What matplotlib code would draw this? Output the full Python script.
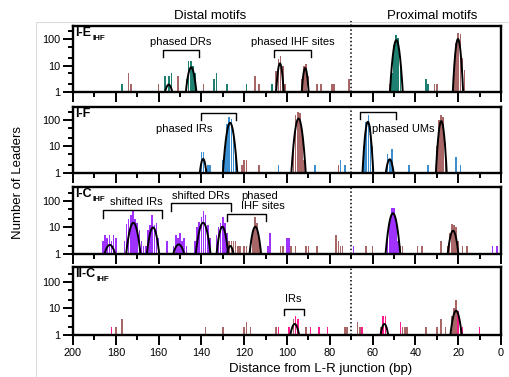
import numpy as np
import matplotlib
matplotlib.use("Agg")
import matplotlib.pyplot as plt
from matplotlib.patches import Rectangle
from matplotlib.lines import Line2D
from matplotlib.transforms import blended_transform_factory
from matplotlib.ticker import FixedLocator, FixedFormatter, MultipleLocator, NullFormatter

plt.rcParams['font.family'] = ['Liberation Sans', 'DejaVu Sans']

# ---------------- data ----------------
# Panel 1: I-E IHF
p1_teal_x = [177, 157, 155, 154, 147, 146, 145, 144, 143, 134, 133, 128, 119, 107,
             51, 50, 49, 48, 47, 46, 35, 34]
p1_teal_h = [2, 4, 4, 5, 3, 15, 15, 10, 5, 3, 5, 2, 2, 2,
             5, 60, 140, 110, 12, 2, 3, 2]
p1_brown_x = [174, 173, 160, 151, 139, 115, 113, 105, 104, 103, 102, 101, 93, 92, 91, 90,
              86, 84, 79, 78, 71, 52, 31, 30, 22, 21, 20, 19, 18, 17]
p1_brown_h = [5, 2, 2, 4, 2, 4, 2, 6, 18, 22, 10, 2, 3, 10, 11, 4,
              2, 2, 2, 2, 3, 2, 2, 2, 5, 70, 170, 150, 20, 7]
p1_fit_mu = [155.3, 144.8, 103.3, 91.5, 48.9, 20.1]
p1_fit_amp = [1.9, 8.5, 12, 8, 91, 100]
p1_fit_sd = [1.5, 1.2, 0.8, 0.8, 1.0, 0.8]

# Panel 2: I-F
p2_blue_x = [140, 139, 137, 136, 130, 129, 128, 127, 126, 125, 124, 104, 87, 75, 73,
             64, 63, 62, 61, 60, 53, 52, 51, 43, 34, 21, 19]
p2_blue_h = [6, 6, 2, 2, 3, 10, 70, 130, 110, 40, 5, 2, 2, 3, 2,
             10, 80, 150, 60, 10, 5, 3, 8, 2, 2, 4, 2]
p2_brown_x = [121, 120, 119, 113, 97, 96, 95, 94, 93, 92, 76, 30, 29, 28, 27, 26]
p2_brown_h = [2, 3, 3, 2, 8, 150, 190, 180, 40, 3, 2, 10, 100, 150, 130, 15]
p2_fit_mu = [139.2, 126.6, 94.6, 62.2, 52.0, 27.9]
p2_fit_amp = [3.3, 76, 110, 83, 3.2, 88]
p2_fit_sd = [1.0, 1.15, 1.1, 0.85, 1.2, 0.85]

# Panel 3: I-C IHF
p3_purple_x = [186, 185, 184, 183, 182, 181, 180, 176, 175, 174, 173, 172, 171, 170, 169, 168,
               167, 166, 165, 164, 163, 162, 161, 160, 156, 153, 152, 151, 150, 149, 148, 147,
               143, 142, 141, 140, 139, 138, 137, 136, 133, 132, 131, 130, 129, 128,
               109, 108, 100, 99, 69, 53, 52, 51, 50, 49, 48, 4, 2]
p3_purple_h = [3, 5, 4, 5, 3, 5, 4, 3, 14, 20, 30, 40, 20, 15, 8, 3,
               2, 2, 8, 12, 30, 12, 15, 4, 3, 2, 5, 4, 6, 3, 4, 2,
               3, 10, 16, 25, 40, 30, 12, 4, 5, 10, 15, 25, 15, 6,
               2, 6, 4, 4, 2, 5, 20, 55, 55, 20, 3, 2, 2]
p3_brown_x = [127, 126, 125, 124, 123, 122, 120, 119, 117, 116, 115, 114, 113, 103, 102, 98,
              96, 91, 90, 86, 77, 76, 75, 74, 63, 60, 47, 46, 39, 37, 28, 25, 24, 23, 22,
              21, 20, 18, 16]
p3_brown_h = [3, 3, 3, 3, 2, 2, 2, 2, 3, 8, 25, 15, 4, 2, 2, 2,
              2, 2, 2, 2, 5, 3, 2, 2, 2, 2, 2, 2, 2, 2, 3, 2, 6, 13, 12,
              10, 3, 2, 2]
p3_fit_mu = [182.8, 171.8, 162.6, 150.6, 139.2, 130.2, 126.5, 114.8, 50.5, 22.4]
p3_fit_amp = [2.2, 15, 10, 2.3, 15, 10.6, 2.0, 10.6, 34, 7.5]
p3_fit_sd = [2.0, 1.45, 1.35, 2.0, 1.5, 1.25, 1.3, 1.25, 1.3, 1.25]

# Panel 4: II-C IHF
p4_pink_x = [182, 104, 99, 96, 95, 89, 85, 81, 65, 55, 54, 47, 20, 18, 10]
p4_pink_h = [2, 2, 2, 5, 4, 2, 2, 2, 2, 5, 5, 3, 8, 2, 2]
p4_brown_x = [180, 177, 138, 130, 120, 119, 117, 105, 97, 91, 73, 72, 67, 66, 56,
              46, 45, 44, 35, 30, 28, 26, 23, 22, 21, 19]
p4_brown_h = [2, 4, 2, 2, 2, 3, 2, 2, 4, 2, 2, 2, 3, 2, 2,
              2, 2, 2, 2, 2, 4, 2, 5, 10, 20, 3]
p4_fit_mu = [96.4, 54.5, 21.0]
p4_fit_amp = [2.6, 2.6, 8.2]
p4_fit_sd = [1.5, 1.3, 1.3]

x_ticks = [200, 180, 160, 140, 120, 100, 80, 60, 40, 20, 0]
y_ticks = [1, 10, 100]
y_tick_labels = ["1", "10", "100"]

TEAL = "#1d8070"
BROWN = "#a86666"
BLUE = "#3b8ed0"
PURPLE = "#a032ff"
PINK = "#ff1a8c"

# ---------------- figure ----------------
W, H = 509, 377
fig = plt.figure(figsize=(W / 100, H / 100), dpi=100)

# faint outer frame
fig.add_artist(Rectangle((36 / W, -0.05), 1.0, 1 - 21.7 / H + 0.05, transform=fig.transFigure,
                         fill=False, ec="#dcdcdc", lw=0.8))

left, right = 73 / W, 501 / W
panel_px = [(26, 92), (107, 172.7), (187, 254), (267, 335)]
ytops = [310, 300, 330, 360]

panels = [
    dict(series=[(p1_teal_x, p1_teal_h, TEAL), (p1_brown_x, p1_brown_h, BROWN)],
         fit=(p1_fit_mu, p1_fit_amp, p1_fit_sd), label=("I-E", "IHF")),
    dict(series=[(p2_blue_x, p2_blue_h, BLUE), (p2_brown_x, p2_brown_h, BROWN)],
         fit=(p2_fit_mu, p2_fit_amp, p2_fit_sd), label=("I-F", None)),
    dict(series=[(p3_purple_x, p3_purple_h, PURPLE), (p3_brown_x, p3_brown_h, BROWN)],
         fit=(p3_fit_mu, p3_fit_amp, p3_fit_sd), label=("I-C", "IHF")),
    dict(series=[(p4_pink_x, p4_pink_h, PINK), (p4_brown_x, p4_brown_h, BROWN)],
         fit=(p4_fit_mu, p4_fit_amp, p4_fit_sd), label=("II-C", "IHF")),
]

axes = []
for i, (pdef, (yt, yb)) in enumerate(zip(panels, panel_px)):
    ax = fig.add_axes([left, 1 - yb / H, right - left, (yb - yt) / H])
    axes.append(ax)
    ax.set_yscale("log")
    for xs, hs, col in pdef["series"]:
        hs = np.asarray(hs, dtype=float)
        ax.bar(xs, hs - 0.5, bottom=0.5, width=0.75, color=col, lw=0)
    mus, amps, sds = pdef["fit"]
    for mu, a, sd in zip(mus, amps, sds):
        xx = np.linspace(mu - 4 * sd, mu + 4 * sd, 200)
        yy = a * np.exp(-(xx - mu) ** 2 / (2 * sd ** 2))
        ax.plot(xx, yy, color="black", lw=1.4, solid_capstyle="round")
    ax.axvline(70, color="black", ls=(0, (1, 1.5)), lw=1.1)
    ax.set_xlim(200, 0)
    ax.set_ylim(1, ytops[i])
    ax.xaxis.set_major_locator(FixedLocator(x_ticks))
    ax.xaxis.set_minor_locator(MultipleLocator(10))
    ax.yaxis.set_major_locator(FixedLocator(y_ticks))
    ax.yaxis.set_major_formatter(FixedFormatter(y_tick_labels))
    ax.yaxis.set_minor_locator(FixedLocator([2, 5, 20, 50, 200]))
    ax.yaxis.set_minor_formatter(NullFormatter())
    ax.tick_params(axis="both", which="major", direction="out", length=7, width=1.4,
                   labelsize=7.8, pad=2)
    ax.tick_params(axis="both", which="minor", direction="out", length=3.8, width=1.4)
    ax.tick_params(axis="x", top=False)
    ax.tick_params(axis="y", right=False)
    if i < 3:
        ax.tick_params(axis="x", labelbottom=False)
    for s in ax.spines.values():
        s.set_linewidth(1.7)
    main, sub = pdef["label"]
    t = ax.text(0.006, 0.98, main, transform=ax.transAxes, ha="left", va="top",
                fontsize=9, fontweight="bold")
    if sub:
        ax.annotate(sub, xy=(1.0, 0.0), xycoords=t, xytext=(0.5, 0.5), textcoords="offset points",
                    ha="left", va="center", fontsize=5.8, fontweight="bold")


def bracket(ax, x1, x2, ylow, ytop):
    ax.plot([x1, x1, x2, x2], [ylow, ytop, ytop, ylow], color="black", lw=1.0, clip_on=False)


ax1, ax2, ax3, ax4 = axes
bracket(ax1, 158, 141, 21.5, 38.5)
ax1.text(149.5, 77, "phased DRs", ha="center", va="center", fontsize=8)
bracket(ax1, 105.9, 89, 21.5, 38.5)
ax1.text(97.5, 77, "phased IHF sites", ha="center", va="center", fontsize=8)

bracket(ax2, 140, 123.7, 100, 180)
ax2.text(148, 46, "phased IRs", ha="center", va="center", fontsize=8)
bracket(ax2, 65.7, 49.1, 104, 196)
ax2.text(60.5, 43, "phased UMs", ha="left", va="center", fontsize=8)

bracket(ax3, 186.2, 158.4, 23, 45)
ax3.text(170.5, 88, "shifted IRs", ha="center", va="center", fontsize=8)
bracket(ax3, 154.2, 126.2, 41, 80)
ax3.text(140.5, 151, "shifted DRs", ha="center", va="center", fontsize=8)
bracket(ax3, 128, 109.7, 17.5, 31)
ax3.text(121.5, 98, "phased\nIHF sites", ha="left", va="center", fontsize=8, linespacing=0.9)

bracket(ax4, 101.6, 92.2, 5.65, 9.5)
ax4.text(96.9, 22, "IRs", ha="center", va="center", fontsize=8)

# dotted divider above top panel
tr = blended_transform_factory(ax1.transData, fig.transFigure)
fig.add_artist(Line2D([70, 70], [1 - 26 / H, 1 - 20.5 / H], transform=tr, color="black",
                      ls=(0, (1, 1.5)), lw=1.1))

fig.text(210 / W, 1 - 16 / H, "Distal motifs", ha="center", va="center", fontsize=9.5)
fig.text(432 / W, 1 - 16 / H, "Proximal motifs", ha="center", va="center", fontsize=9.5)
fig.text(18 / W, 1 - 182 / H, "Number of Leaders", rotation=90, ha="center", va="center",
         fontsize=9.5)
fig.text(321 / W, 1 - 369 / H, "Distance from L-R junction (bp)", ha="center", va="center",
         fontsize=9.5)

fig.savefig("out.png", dpi=100)
